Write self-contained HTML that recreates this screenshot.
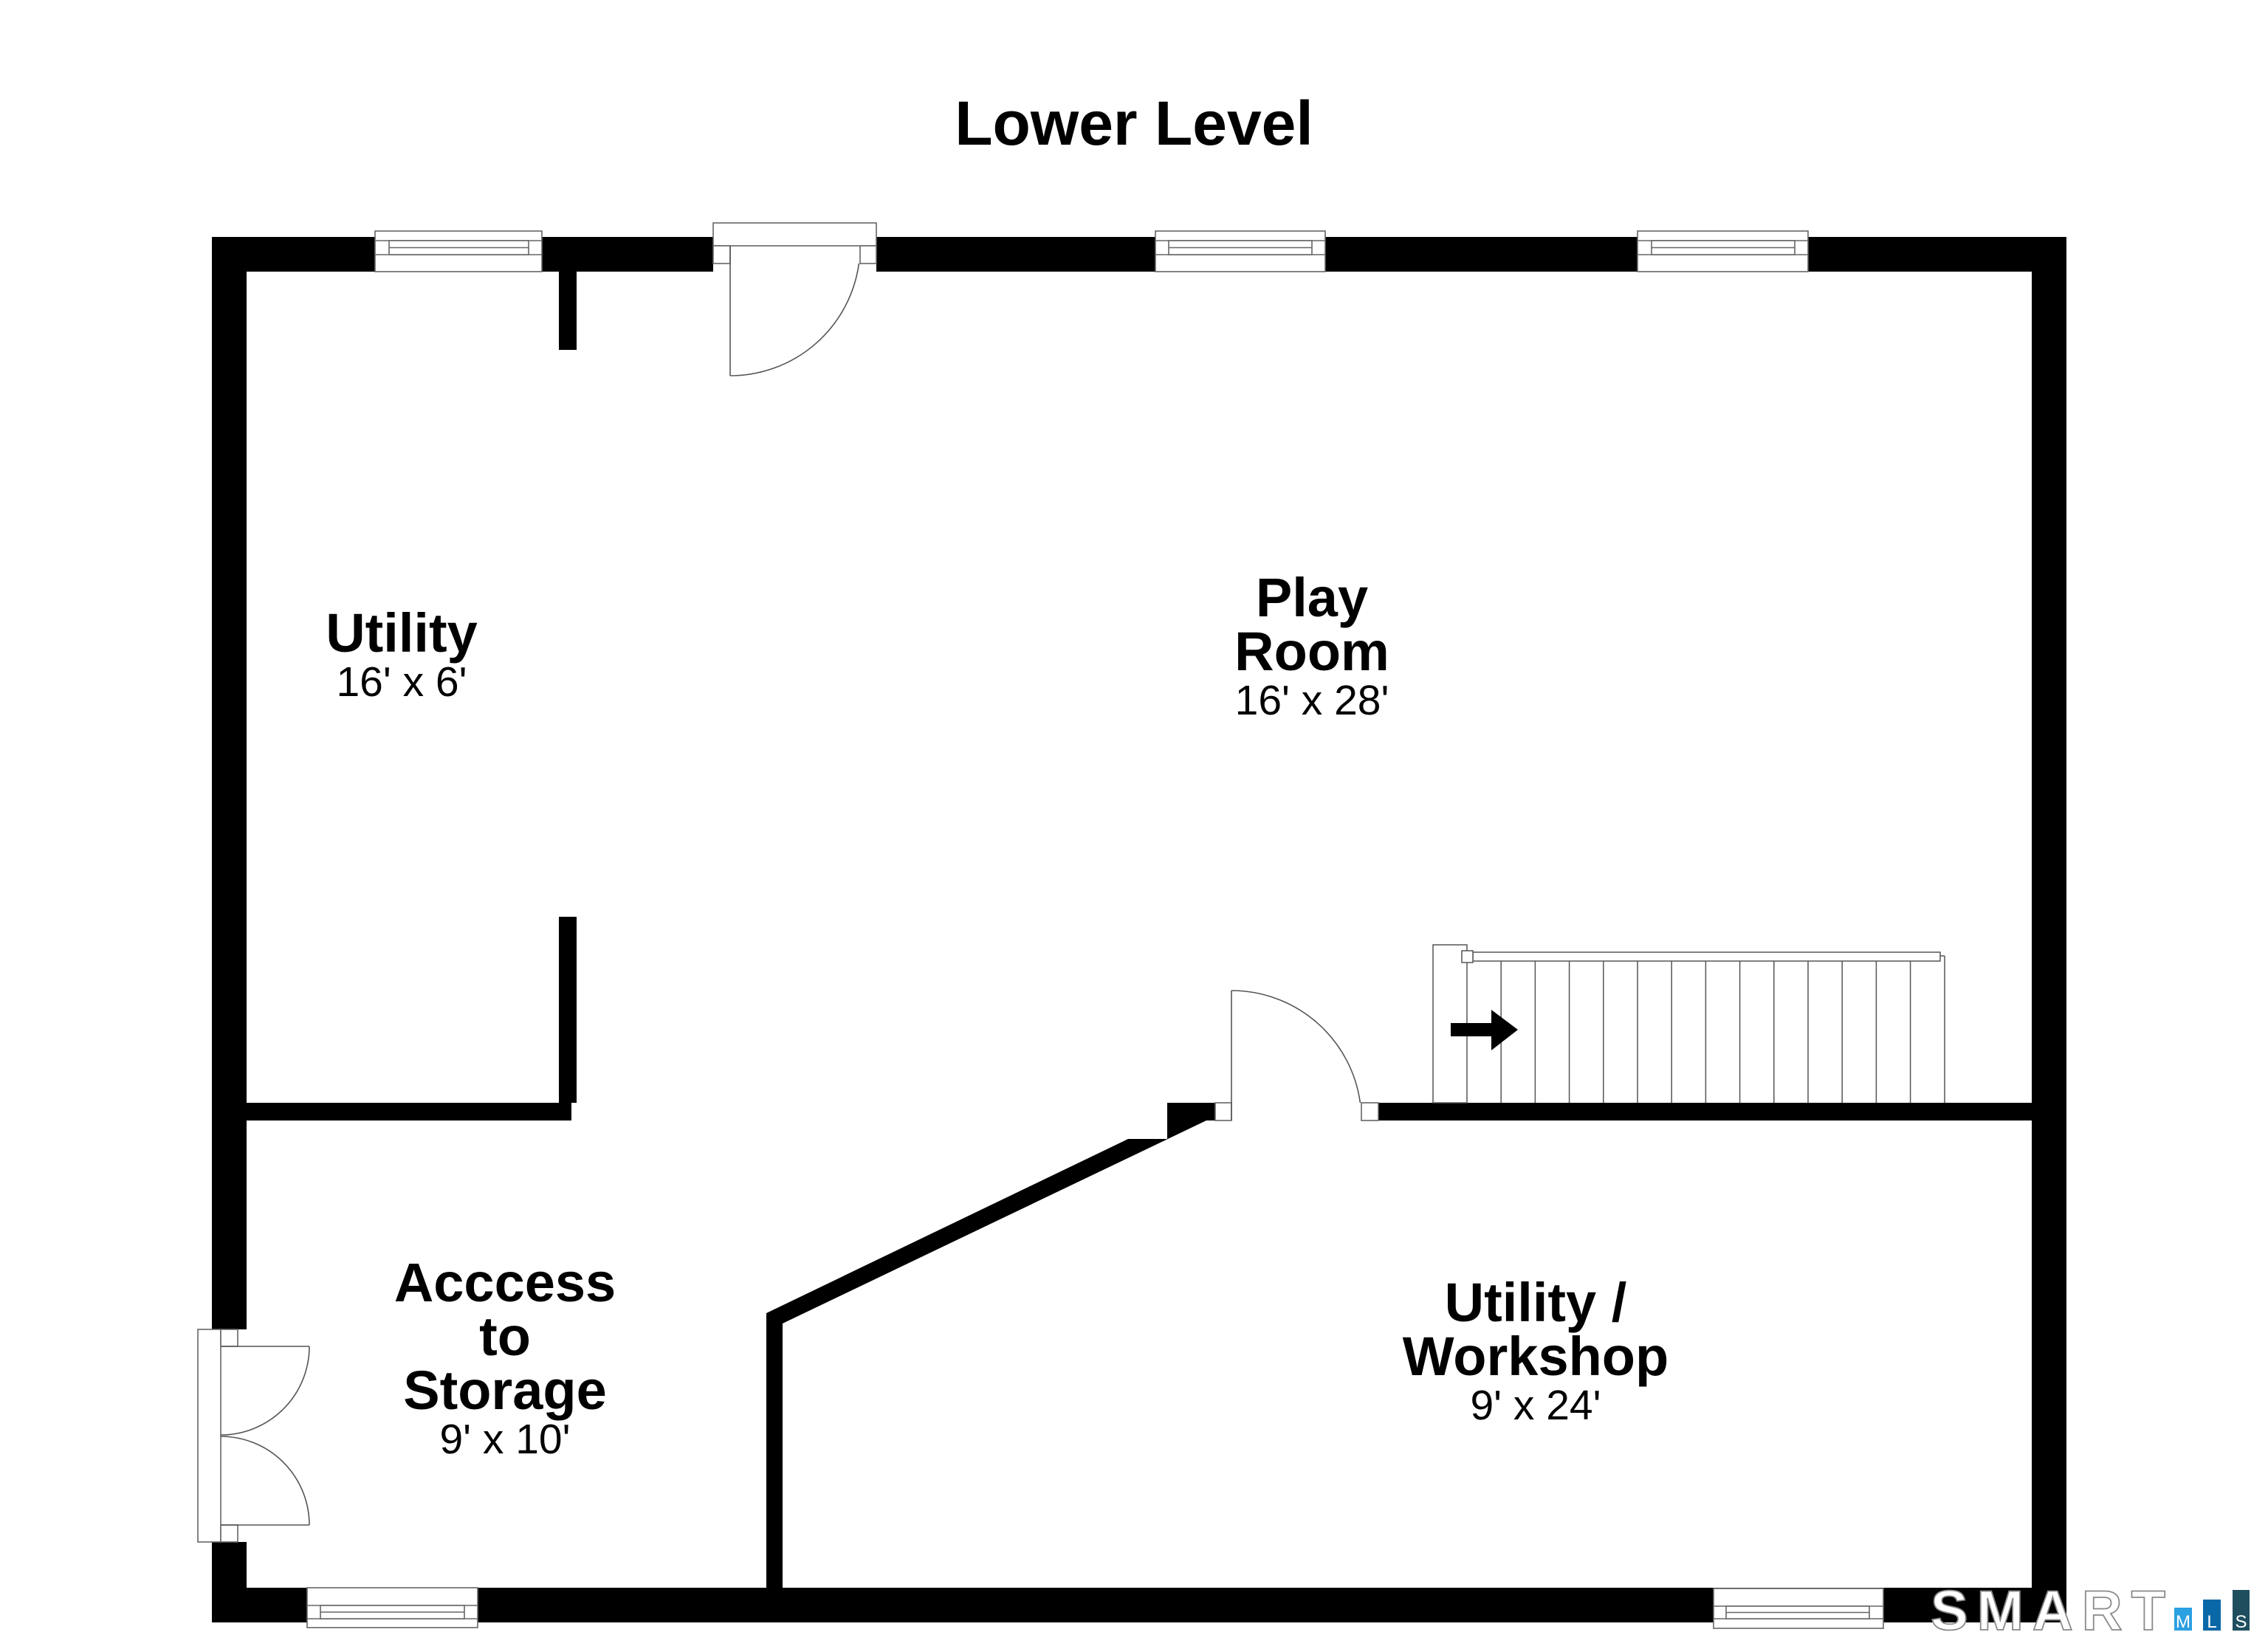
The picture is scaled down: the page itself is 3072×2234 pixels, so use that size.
<!DOCTYPE html>
<html>
<head>
<meta charset="utf-8">
<style>
html,body{margin:0;padding:0;background:#fff;}
svg{display:block;}
text{font-family:"Liberation Sans",Arial,sans-serif;}
</style>
</head>
<body>
<svg width="3072" height="2234" viewBox="0 0 3072 2234" xmlns="http://www.w3.org/2000/svg">
<rect x="0" y="0" width="3072" height="2234" fill="#fff"/>

<!-- Title -->
<text x="1536" y="196" font-size="84" font-weight="bold" text-anchor="middle" fill="#000">Lower Level</text>

<!-- Outer walls -->
<g fill="#000">
  <rect x="287" y="321" width="2512" height="47"/>
  <rect x="287" y="321" width="47" height="1480"/>
  <rect x="287" y="2089" width="47" height="109"/>
  <rect x="2752" y="321" width="47" height="1877"/>
  <rect x="287" y="2151" width="2512" height="47"/>
  <!-- Utility partitions -->
  <rect x="757" y="368" width="24" height="106"/>
  <rect x="757" y="1242" width="24" height="252"/>
  <rect x="334" y="1494" width="440" height="24"/>
  <!-- middle wall right of door -->
  <rect x="1867" y="1494" width="885" height="24"/>
  <!-- diagonal wall with block -->
  <polygon points="1581,1494 1646,1494 1646,1518 1634,1518 1060,1793 1060,2160 1038,2160 1038,1779 1528,1543 1581,1543"/>
</g>

<g fill="#fff" stroke="#666" stroke-width="1.6">
  <!-- Top windows -->
  <g>
    <rect x="508" y="313" width="226" height="55"/>
    <line x1="508" y1="326" x2="734" y2="326"/>
    <line x1="508" y1="345" x2="734" y2="345"/>
    <rect x="527" y="326" width="189" height="19"/>
    <line x1="527" y1="335.5" x2="716" y2="335.5"/>
  </g>
  <g>
    <rect x="1565" y="313" width="230" height="55"/>
    <line x1="1565" y1="326" x2="1795" y2="326"/>
    <line x1="1565" y1="345" x2="1795" y2="345"/>
    <rect x="1583" y="326" width="194" height="19"/>
    <line x1="1583" y1="335.5" x2="1777" y2="335.5"/>
  </g>
  <g>
    <rect x="2218" y="313" width="231" height="55"/>
    <line x1="2218" y1="326" x2="2449" y2="326"/>
    <line x1="2218" y1="345" x2="2449" y2="345"/>
    <rect x="2237" y="326" width="194" height="19"/>
    <line x1="2237" y1="335.5" x2="2431" y2="335.5"/>
  </g>

  <!-- Bottom windows -->
  <g>
    <rect x="416" y="2151" width="231" height="54"/>
    <line x1="416" y1="2175" x2="647" y2="2175"/>
    <line x1="416" y1="2193" x2="647" y2="2193"/>
    <rect x="434" y="2175" width="195" height="18"/>
    <line x1="434" y1="2184" x2="629" y2="2184"/>
  </g>
  <g>
    <rect x="2321" y="2152" width="230" height="54"/>
    <line x1="2321" y1="2176" x2="2551" y2="2176"/>
    <line x1="2321" y1="2193" x2="2551" y2="2193"/>
    <rect x="2338" y="2176" width="194" height="17"/>
    <line x1="2338" y1="2184.5" x2="2532" y2="2184.5"/>
  </g>
</g>

<!-- Top door -->
<rect x="966" y="300" width="221" height="69" fill="#fff"/>
<g fill="#fff" stroke="#666" stroke-width="1.6">
  <rect x="966" y="302" width="221" height="31"/>
  <rect x="966" y="333" width="23" height="24"/>
  <rect x="1165" y="333" width="22" height="24"/>
</g>
<g fill="none" stroke="#555" stroke-width="1.6">
  <line x1="989" y1="333" x2="989" y2="509"/>
  <path d="M989,509 A176,176 0 0 0 1163.4,357"/>
</g>

<!-- Middle door -->
<g fill="#fff" stroke="#666" stroke-width="1.6">
  <rect x="1646" y="1494" width="22" height="24"/>
  <rect x="1844" y="1494" width="23" height="24"/>
</g>
<g fill="none" stroke="#555" stroke-width="1.6">
  <line x1="1668" y1="1342" x2="1668" y2="1518"/>
  <path d="M1668,1342 A176,176 0 0 1 1842.4,1494"/>
</g>

<!-- Double door left -->
<rect x="266" y="1801" width="68" height="288" fill="#fff"/>
<g fill="#fff" stroke="#666" stroke-width="1.6">
  <rect x="268" y="1801" width="31" height="288"/>
  <rect x="299" y="1801" width="23" height="23"/>
  <rect x="299" y="2066" width="23" height="23"/>
</g>
<g fill="none" stroke="#555" stroke-width="1.6">
  <line x1="299" y1="1824" x2="419" y2="1824"/>
  <line x1="299" y1="2066" x2="419" y2="2066"/>
  <path d="M419,1824 A120,120 0 0 1 299,1944"/>
  <path d="M299,1946 A120,120 0 0 1 419,2066"/>
</g>

<!-- Stairs -->
<g fill="none" stroke="#555" stroke-width="1.5">
  <rect x="1941" y="1280" width="46" height="214" fill="#fff"/>
  <line x1="2033.2" y1="1302" x2="2033.2" y2="1494"/>
  <line x1="2079.4" y1="1302" x2="2079.4" y2="1494"/>
  <line x1="2125.6" y1="1302" x2="2125.6" y2="1494"/>
  <line x1="2171.8" y1="1302" x2="2171.8" y2="1494"/>
  <line x1="2218" y1="1302" x2="2218" y2="1494"/>
  <line x1="2264.2" y1="1302" x2="2264.2" y2="1494"/>
  <line x1="2310.4" y1="1302" x2="2310.4" y2="1494"/>
  <line x1="2356.6" y1="1302" x2="2356.6" y2="1494"/>
  <line x1="2402.8" y1="1302" x2="2402.8" y2="1494"/>
  <line x1="2449" y1="1302" x2="2449" y2="1494"/>
  <line x1="2495.2" y1="1302" x2="2495.2" y2="1494"/>
  <line x1="2541.4" y1="1302" x2="2541.4" y2="1494"/>
  <line x1="2587.6" y1="1302" x2="2587.6" y2="1494"/>
  <line x1="2634" y1="1295" x2="2634" y2="1494"/>
  <line x1="2628" y1="1295" x2="2634" y2="1295"/>
  <rect x="1995" y="1290" width="633" height="12" fill="#fff"/>
  <rect x="1980" y="1288" width="15" height="16" fill="#fff"/>
</g>
<polygon points="1965,1386 2020,1386 2020,1368 2056,1395 2020,1423 2020,1404 1965,1404" fill="#000"/>

<!-- Room labels -->
<g fill="#000" text-anchor="middle">
  <text x="544" y="883" font-size="74" font-weight="bold">Utility</text>
  <text x="544" y="943" font-size="57">16' x 6'</text>

  <text x="1777" y="835" font-size="74" font-weight="bold">Play</text>
  <text x="1777" y="908" font-size="74" font-weight="bold">Room</text>
  <text x="1777" y="968" font-size="57">16' x 28'</text>

  <text x="684" y="1763" font-size="74" font-weight="bold">Acccess</text>
  <text x="684" y="1836" font-size="74" font-weight="bold">to</text>
  <text x="684" y="1909" font-size="74" font-weight="bold">Storage</text>
  <text x="684" y="1969" font-size="57">9' x 10'</text>

  <text x="2080" y="1790" font-size="74" font-weight="bold">Utility /</text>
  <text x="2080" y="1863" font-size="74" font-weight="bold">Workshop</text>
  <text x="2080" y="1923" font-size="57">9' x 24'</text>
</g>

<!-- SMART MLS logo -->
<text x="2615" y="2208" font-size="76" font-weight="bold" fill="#fff" stroke="#8a8a8a" stroke-width="1.8" textLength="318" lengthAdjust="spacing">SMART</text>
<rect x="2945" y="2178" width="24" height="31" fill="#2ba0e2"/>
<rect x="2984" y="2167" width="24" height="42" fill="#0b68a8"/>
<rect x="3024" y="2154" width="23" height="55" fill="#1f4f5f"/>
<g fill="#fff" font-size="24" text-anchor="middle">
  <text x="2957" y="2205">M</text>
  <text x="2996" y="2205">L</text>
  <text x="3035.5" y="2205">S</text>
</g>
</svg>
</body>
</html>
